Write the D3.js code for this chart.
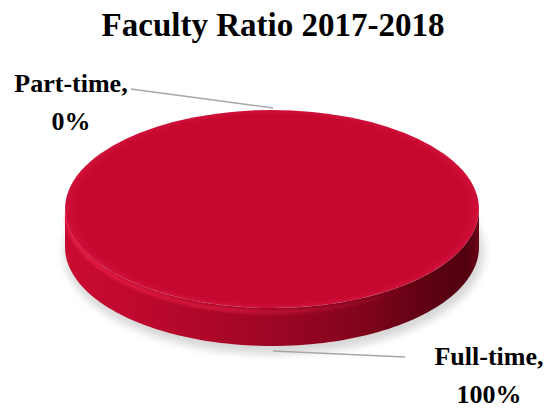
<!DOCTYPE html>
<html><head><meta charset="utf-8">
<script src="https://cdn.jsdelivr.net/npm/d3@7"></script>
<style>html,body{margin:0;padding:0;background:#fff;}svg{display:block;}</style>
</head><body>
<script>
const categories = ["Full-time", "Part-time"];
const values = [100, 0];
const labels = ["Full-time,\n100%", "Part-time,\n0%"];
const title = "Faculty Ratio 2017-2018";

const W = 549, H = 409;
const cx = 272, cy = 209, rx = 207, ry = 99, depth = 38;

const svg = d3.select("body").append("svg").attr("width", W).attr("height", H);
const defs = svg.append("defs");

const fBlur = defs.append("filter").attr("id","blur").attr("x","-20%").attr("y","-50%").attr("width","140%").attr("height","200%");
fBlur.append("feGaussianBlur").attr("stdDeviation", 4);
const fSoft = defs.append("filter").attr("id","soft").attr("x","-10%").attr("y","-50%").attr("width","120%").attr("height","200%");
fSoft.append("feGaussianBlur").attr("stdDeviation", 1.6);

const sideGrad = defs.append("linearGradient").attr("id","sideGrad").attr("gradientUnits","userSpaceOnUse")
  .attr("x1", cx - rx).attr("x2", cx + rx).attr("y1", 0).attr("y2", 0);
[[0,"#c90b30"],[0.15,"#c0092d"],[0.45,"#a30626"],[0.7,"#84041d"],[0.88,"#5e0213"],[0.97,"#520110"],[1,"#6a0316"]].forEach(([o,c])=>sideGrad.append("stop").attr("offset",o).attr("stop-color",c));
const hiGrad = defs.append("linearGradient").attr("id","hiGrad").attr("gradientUnits","userSpaceOnUse")
  .attr("x1", cx - rx).attr("x2", cx + rx).attr("y1", 0).attr("y2", 0);
[[0,"#ff2a50",0.55],[0.4,"#ff2a50",0.45],[0.7,"#ff2a50",0.15],[0.85,"#ff2a50",0]].forEach(([o,c,a])=>hiGrad.append("stop").attr("offset",o).attr("stop-color",c).attr("stop-opacity",a));
const topGrad = defs.append("radialGradient").attr("id","topGrad").attr("cx","0.5").attr("cy","0.5").attr("r","0.5");
[[0,"#c7082e"],[0.95,"#c6082e"],[1,"#d0103a"]].forEach(([o,c])=>topGrad.append("stop").attr("offset",o).attr("stop-color",c));

// title
svg.append("text").attr("x", 273).attr("y", 36).attr("text-anchor","middle")
  .attr("font-family","Liberation Serif, serif").attr("font-weight","bold").attr("font-size", 33)
  .attr("fill","#000").text(title);

const pie = d3.pie().sort(null).startAngle(0).endAngle(2*Math.PI)(values);
const arcR = d3.arc().innerRadius(0).outerRadius(rx);
const sy = ry / rx;

// shadow
svg.append("ellipse").attr("cx", cx + 2).attr("cy", cy + depth + 5).attr("rx", rx + 3).attr("ry", ry + 3)
  .attr("fill", "#000").attr("opacity", 0.16).attr("filter","url(#blur)");

const g = svg.append("g");

function pt(a, r, dy) { return [cx + r*Math.sin(a), cy - r*sy*Math.cos(a) + dy]; }
pie.forEach((d,i) => {
  if (d.value <= 0) return;
  const a0 = Math.max(d.startAngle, Math.PI/2), a1 = Math.min(d.endAngle, 3*Math.PI/2);
  if (a1 <= a0) return;
  const n = 100, top = [], bot = [];
  for (let k=0;k<=n;k++){ const a=a0+(a1-a0)*k/n; top.push(pt(a,rx,0)); bot.push(pt(a,rx,depth)); }
  const p = "M" + top.concat(bot.slice().reverse()).map(q=>q.join(",")).join("L") + "Z";
  g.append("path").attr("d", p).attr("fill","url(#sideGrad)");
  // bevel highlight band just below top edge
  const hl = [];
  for (let k=0;k<=n;k++){ const a=a0+(a1-a0)*k/n; hl.push(pt(a,rx-2,5)); }
  g.append("path").attr("d", "M" + hl.map(q=>q.join(",")).join("L")).attr("fill","none")
    .attr("stroke","url(#hiGrad)").attr("stroke-width",4).attr("filter","url(#soft)");
});

// top faces
pie.forEach((d,i) => {
  if (d.value <= 0) return;
  g.append("path").attr("d", arcR(d))
    .attr("transform", `translate(${cx},${cy}) scale(1,${sy})`)
    .attr("fill","url(#topGrad)");
});

// leader lines and labels
const lineData = [
  {from:[273,351], to:[405,357]},
  {from:[273,108], to:[131,89]}
];
lineData.forEach(l => svg.append("line").attr("x1",l.from[0]).attr("y1",l.from[1]).attr("x2",l.to[0]).attr("y2",l.to[1])
  .attr("stroke","#a6a6a6").attr("stroke-width",1.3));

const labelPos = [[489, 365], [71, 92]];
labels.forEach((t,i) => {
  const lines = t.split("\n");
  const txt = svg.append("text").attr("text-anchor","middle")
    .attr("font-family","Liberation Serif, serif").attr("font-weight","bold").attr("font-size", 26).attr("fill","#000");
  lines.forEach((s,j)=> txt.append("tspan").attr("x", labelPos[i][0]).attr("y", labelPos[i][1] + j*38).text(s));
});
</script>
</body></html>
